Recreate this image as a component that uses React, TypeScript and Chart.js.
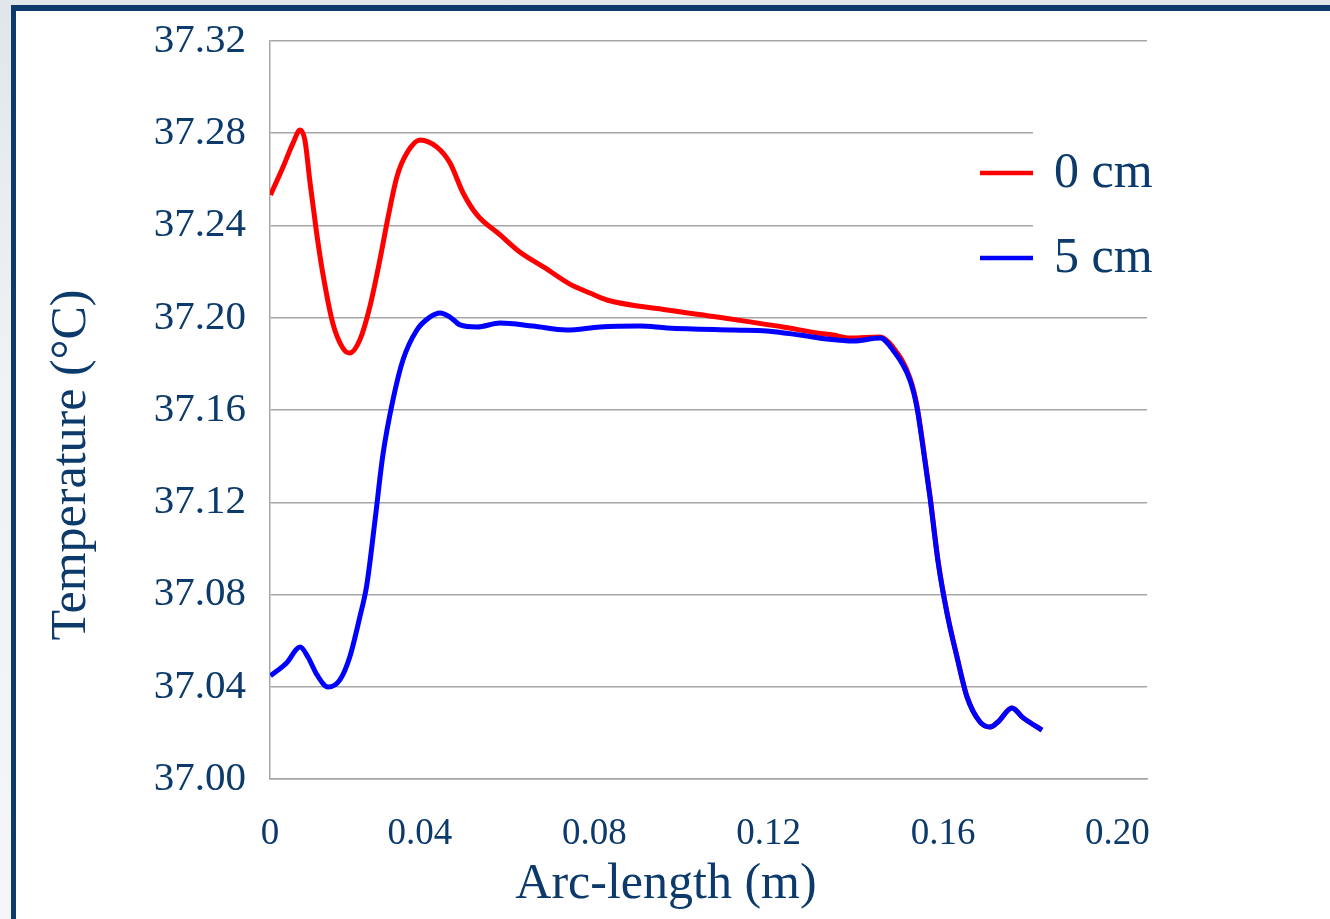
import React, { useEffect, useRef } from 'react';
import { Chart, registerables } from 'chart.js';

Chart.register(...registerables);

// Surface temperature along the arc, at two depths
const arcLength0cm = [
  0.0057, 0.0086, 0.0109, 0.0125, 0.0136, 0.0148, 0.0163, 0.0177, 0.0200, 0.0223,
  0.0239, 0.0262, 0.0285, 0.0308, 0.0327, 0.0347, 0.0370, 0.0400, 0.0439, 0.0469,
  0.0499, 0.0531, 0.0584, 0.0629, 0.0687, 0.0744, 0.0790, 0.0829, 0.0967, 0.1082,
  0.1157, 0.1233, 0.1311, 0.1348, 0.1387, 0.1456, 0.1485, 0.1524, 0.1540, 0.1554,
  0.1570, 0.1589, 0.1609, 0.1632, 0.1655, 0.1685, 0.1708, 0.1726, 0.1758, 0.1784,
  0.1827,
];
const temperature0cm = [
  37.2532, 37.2654, 37.2758, 37.2814, 37.2771, 37.2584, 37.2367, 37.2194, 37.1977, 37.1869,
  37.1847, 37.1903, 37.2047, 37.2250, 37.2437, 37.2610, 37.2714, 37.2771, 37.2740, 37.2671,
  37.2541, 37.2446, 37.2359, 37.2285, 37.2216, 37.2146, 37.2107, 37.2077, 37.2034, 37.2003,
  37.1982, 37.1960, 37.1934, 37.1925, 37.1912, 37.1917, 37.1873, 37.1740, 37.1622, 37.1448,
  37.1230, 37.0942, 37.0724, 37.0531, 37.0357, 37.0247, 37.0225, 37.0247, 37.0308, 37.0265,
  37.0212,
];

const arcLength5cm = [
  0.0057, 0.0094, 0.0125, 0.0143, 0.0164, 0.0189, 0.0216, 0.0239, 0.0262, 0.0278,
  0.0297, 0.0315, 0.0338, 0.0361, 0.0393, 0.0423, 0.0446, 0.0469, 0.0492, 0.0531,
  0.0584, 0.0659, 0.0737, 0.0813, 0.0905, 0.0967, 0.1118, 0.1196, 0.1272, 0.1334,
  0.1394, 0.1456, 0.1485, 0.1524, 0.1540, 0.1554, 0.1570, 0.1589, 0.1609, 0.1632,
  0.1655, 0.1685, 0.1708, 0.1726, 0.1758, 0.1784, 0.1827,
];
const temperature5cm = [
  37.0447, 37.0503, 37.0572, 37.0529, 37.0451, 37.0399, 37.0429, 37.0529, 37.0702, 37.0841,
  37.1123, 37.1405, 37.1643, 37.1817, 37.1947, 37.2003, 37.2021, 37.2003, 37.1969, 37.1960,
  37.1977, 37.1964, 37.1947, 37.1960, 37.1964, 37.1956, 37.1947, 37.1943, 37.1925, 37.1908,
  37.1899, 37.1912, 37.1860, 37.1730, 37.1613, 37.1440, 37.1223, 37.0937, 37.0720, 37.0529,
  37.0356, 37.0247, 37.0225, 37.0247, 37.0308, 37.0265, 37.0212,
];

const seriesLabels = ['0 cm', '5 cm'];
const seriesColors = ['#ff0000', '#0000ff'];

// Axis ticks
const xTickValues = [0.04, 0.08, 0.12, 0.16, 0.2];
const xStartLabel = '0';
const xAxisMin = 0.0056;
const xAxisMax = 0.2068;
const yAxisMin = 37.0;
const yAxisMax = 37.32;
const yTickStep = 0.04;

const xTitle = 'Arc-length (m)';
const yTitle = 'Temperature (\u00B0C)';

const NAVY = '#0b3a6b';
const SERIF = '"Liberation Serif", "Times New Roman", serif';
const GRID = '#a6a6a6';

const toPoints = (xs: number[], ys: number[]) => xs.map((x, i) => ({ x, y: ys[i] }));

// Axis captions and the inset legend, drawn on top of the plot
const captionsAndLegend = {
  id: 'captionsAndLegend',
  afterDraw(chart: any) {
    const { ctx, chartArea } = chart;
    ctx.save();

    // y title (rotated)
    ctx.fillStyle = NAVY;
    ctx.font = `50px ${SERIF}`;
    ctx.textAlign = 'center';
    ctx.textBaseline = 'alphabetic';
    ctx.save();
    ctx.translate(chartArea.left - 185, (chartArea.top + chartArea.bottom) / 2 + 55);
    ctx.rotate(-Math.PI / 2);
    ctx.fillText(yTitle, 0, 0);
    ctx.restore();

    // x title
    ctx.fillText(xTitle, chartArea.left + 396, chartArea.bottom + 119);

    // legend panel
    const boxLeft = chartArea.right - 114;
    ctx.fillStyle = '#ffffff';
    ctx.fillRect(boxLeft, chartArea.top + 74, chart.width - boxLeft, 185);
    chart.data.datasets.forEach((ds: any, i: number) => {
      const y = chartArea.top + 132 + i * 85;
      ctx.strokeStyle = ds.borderColor;
      ctx.lineWidth = 4.5;
      ctx.lineCap = 'butt';
      ctx.beginPath();
      ctx.moveTo(boxLeft - 53, y);
      ctx.lineTo(boxLeft, y);
      ctx.stroke();
      ctx.fillStyle = NAVY;
      ctx.font = `50px ${SERIF}`;
      ctx.textAlign = 'left';
      ctx.textBaseline = 'alphabetic';
      ctx.fillText(ds.label, boxLeft + 21, y + 14);
    });
    ctx.restore();
  },
};

function TemperatureChart() {
  const canvasRef = useRef<HTMLCanvasElement | null>(null);

  useEffect(() => {
    const canvas = canvasRef.current;
    if (!canvas) return;
    const chart = new Chart(canvas, {
      type: 'line',
      data: {
        datasets: [
          {
            label: seriesLabels[0],
            data: toPoints(arcLength0cm, temperature0cm),
            borderColor: seriesColors[0],
            borderWidth: 5,
            pointRadius: 0,
            fill: false,
            cubicInterpolationMode: 'monotone',
            order: 1,
          },
          {
            label: seriesLabels[1],
            data: toPoints(arcLength5cm, temperature5cm),
            borderColor: seriesColors[1],
            borderWidth: 5,
            pointRadius: 0,
            fill: false,
            cubicInterpolationMode: 'monotone',
            order: 0,
          },
        ],
      },
      options: {
        responsive: false,
        animation: false,
        devicePixelRatio: 1,
        layout: { padding: { left: 0, top: 41, right: 183, bottom: 0 } },
        plugins: {
          legend: { display: false },
          tooltip: { enabled: false },
          title: { display: false },
        },
        scales: {
          x: {
            type: 'linear',
            min: xAxisMin,
            max: xAxisMax,
            afterBuildTicks: (scale: any) => {
              scale.ticks = [{ value: xAxisMin }, ...xTickValues.map((v) => ({ value: v }))];
            },
            afterFit: (scale: any) => {
              scale.height = 140;
              scale.paddingLeft = 0;
              scale.paddingRight = 0;
            },
            grid: { display: false, drawTicks: false },
            border: { display: true, color: GRID, width: 1.5 },
            ticks: {
              autoSkip: false,
              maxRotation: 0,
              padding: 33,
              color: NAVY,
              font: { family: SERIF, size: 37 },
              callback: (v: any) => (v === xAxisMin ? xStartLabel : Number(v).toFixed(2)),
            },
          },
          y: {
            type: 'linear',
            min: yAxisMin,
            max: yAxisMax,
            afterFit: (scale: any) => {
              scale.width = 270;
              scale.paddingTop = 0;
              scale.paddingBottom = 0;
            },
            grid: { display: true, color: GRID, lineWidth: 1.5, drawTicks: false },
            border: { display: true, color: GRID, width: 1.5 },
            ticks: {
              stepSize: yTickStep,
              padding: 24,
              color: NAVY,
              font: { family: SERIF, size: 41 },
              callback: (v: any) => Number(v).toFixed(2),
            },
          },
        },
      },
      plugins: [captionsAndLegend],
    } as any);
    return () => chart.destroy();
  }, []);

  return (
    <canvas
      ref={canvasRef}
      width={1330}
      height={919}
      style={{ position: 'absolute', left: 0, top: 0, width: 1330, height: 919 }}
    />
  );
}

export default function App() {
  return (
    <div
      style={{
        position: 'fixed',
        inset: 0,
        width: 1330,
        height: 919,
        overflow: 'hidden',
        background: 'linear-gradient(to bottom, #dfe7eb 0%, #eef2f4 40%, #f4f6f7 100%)',
      }}
    >
      <div
        style={{
          position: 'absolute',
          left: 11,
          top: 5,
          right: 0,
          bottom: 0,
          background: '#ffffff',
          borderTop: `6px solid ${NAVY}`,
          borderLeft: `5px solid ${NAVY}`,
        }}
      />
      <TemperatureChart />
    </div>
  );
}
